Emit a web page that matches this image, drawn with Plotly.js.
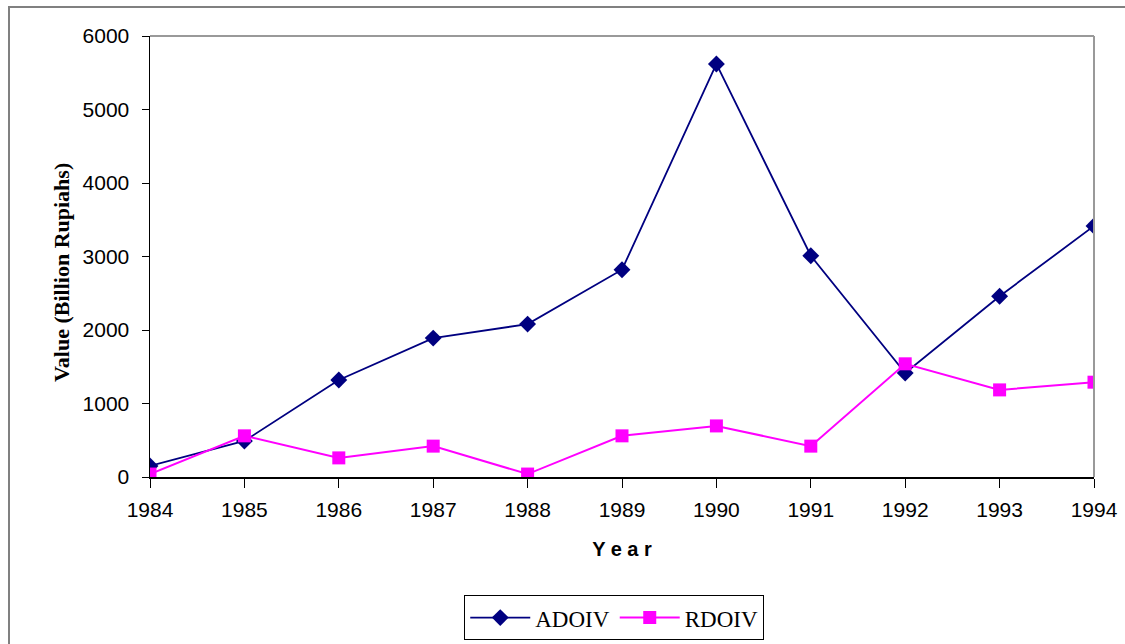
<!DOCTYPE html>
<html>
<head>
<meta charset="utf-8">
<script src="https://cdn.plot.ly/plotly-3.0.1.min.js"></script>
<style>
html,body{margin:0;padding:0;overflow:hidden;background:#fff;}
#frame{position:absolute;left:8px;top:6px;width:1300px;height:800px;border:2px solid #808080;box-sizing:border-box;pointer-events:none;z-index:5;}
#chart{position:absolute;left:0;top:0;width:1125px;height:644px;}
</style>
</head>
<body>
<div id="chart"></div>
<div id="frame"></div>
<script>
var years = ['1984','1985','1986','1987','1988','1989','1990','1991','1992','1993','1994'];
var adoiv = [150, 490, 1320, 1890, 2080, 2820, 5620, 3010, 1415, 2460, 3415];
var rdoiv = [40, 560, 260, 420, 40, 560, 695, 420, 1540, 1185, 1290];
var yTicks = [0, 1000, 2000, 3000, 4000, 5000, 6000];

var traces = [
  {x: years, y: adoiv, name: 'ADOIV', type: 'scatter', mode: 'lines+markers',
   line: {color: '#000080', width: 1.8},
   marker: {symbol: 'diamond', size: 13, color: '#000080'}},
  {x: years, y: rdoiv, name: 'RDOIV', type: 'scatter', mode: 'lines+markers',
   line: {color: '#FF00FF', width: 2},
   marker: {symbol: 'square', size: 13, color: '#FF00FF'}}
];

var layout = {
  width: 1125, height: 644,
  margin: {l: 150, r: 31, t: 36, b: 167},
  paper_bgcolor: '#ffffff', plot_bgcolor: '#ffffff',
  showlegend: true,
  legend: {
    orientation: 'h', x: 0.546, xref: 'container', xanchor: 'center',
    y: 0.006, yref: 'container', yanchor: 'bottom',
    bordercolor: '#000000', borderwidth: 1,
    itemwidth: 60,
    font: {family: 'Liberation Serif, Times New Roman, serif', size: 23, color: '#000'}
  },
  xaxis: {
    type: 'category', range: [0, 10], automargin: false,
    showgrid: false, zeroline: false,
    showline: true, linecolor: '#000', linewidth: 1.5,
    ticks: 'outside', ticklen: 9, tickcolor: '#000', ticklabelstandoff: 4,
    tickfont: {family: 'Liberation Sans, Arial, sans-serif', size: 21, color: '#000'},
    title: {text: 'Y e a r', font: {family: 'Liberation Sans, Arial, sans-serif', size: 20, color: '#000', weight: 'bold'}, standoff: 22}
  },
  yaxis: {
    range: [0, 6000], tickvals: yTicks, automargin: false,
    showgrid: false, zeroline: false,
    showline: true, linecolor: '#000', linewidth: 1.5,
    ticks: 'outside', ticklen: 7, tickcolor: '#000', ticklabelstandoff: 8,
    tickfont: {family: 'Liberation Sans, Arial, sans-serif', size: 21, color: '#000'}
  },
  annotations: [
    {text: 'Value (Billion Rupiahs)', xref: 'paper', yref: 'paper', x: -0.0932, y: 0.4626,
     xanchor: 'center', yanchor: 'middle', textangle: -90, showarrow: false,
     font: {family: 'Liberation Serif, Times New Roman, serif', size: 22, color: '#000', weight: 'bold'}}
  ],
  shapes: [
    {type: 'line', xref: 'paper', yref: 'paper', x0: 0, x1: 1, y0: 1, y1: 1, line: {color: '#999999', width: 2}},
    {type: 'line', xref: 'paper', yref: 'paper', x0: 1, x1: 1, y0: 0, y1: 1, line: {color: '#999999', width: 2}}
  ]
};

Plotly.newPlot('chart', traces, layout, {displayModeBar: false, staticPlot: true});
</script>
</body>
</html>
